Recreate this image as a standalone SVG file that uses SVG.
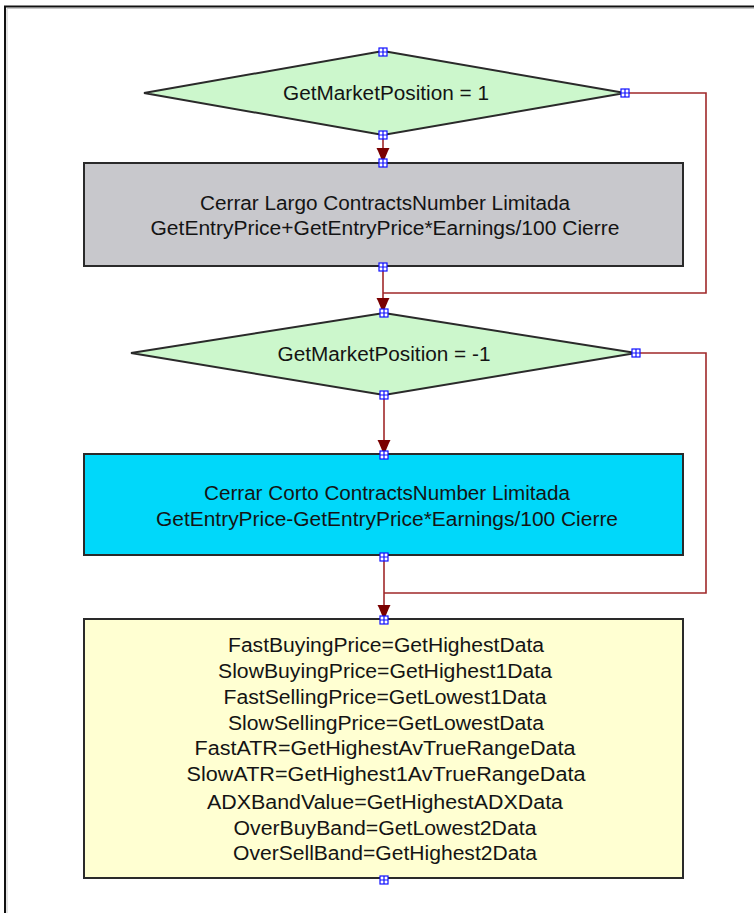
<svg xmlns="http://www.w3.org/2000/svg" width="754" height="913" viewBox="0 0 754 913">
<defs>
<style>
.t{font-family:"Liberation Sans",Arial,sans-serif;font-size:20px;fill:#141414;text-anchor:middle}
.shape{stroke:#2a2a2a;stroke-width:2}
.con{fill:none;stroke:#a0282a;stroke-width:1.6}
.arr{fill:#7a0000}
.h{fill:#ffffff;stroke:#1010ff;stroke-width:1.2}
</style>
<g id="handle">
<rect class="h" x="-4" y="-4" width="8" height="8"/>
<path d="M0,-4V4M-4,0H4" stroke="#1010ff" stroke-width="1.2"/>
</g>
<g id="ah">
<polygon class="arr" points="-6.5,-15 6.5,-15 5,-12 0,0 -5,-12"/>
</g>
</defs>
<rect width="754" height="913" fill="#ffffff"/>
<g id="frame">
<path d="M5,913V6.5H754" fill="none" stroke="#111" stroke-width="2"/>
<path d="M7,913V8.5H754" fill="none" stroke="#c8c8c8" stroke-width="1"/>
</g>
<g id="connectors">
<path class="con" d="M383,135V163"/>
<path class="con" d="M625,93H706V293H383"/>
<path class="con" d="M383,267V313"/>
<path class="con" d="M384,395V455"/>
<path class="con" d="M636,353H706V593H384"/>
<path class="con" d="M384,557V620"/>
<use href="#ah" x="383" y="163"/>
<use href="#ah" x="383" y="313"/>
<use href="#ah" x="384" y="455"/>
<use href="#ah" x="384" y="620"/>
</g>
<g id="d1">
<polygon class="shape" fill="#ccf7cc" points="383,51 625,93 383,135 144,93"/>
<text class="t" x="386" y="100" textLength="206" lengthAdjust="spacingAndGlyphs">GetMarketPosition = 1</text>
<use href="#handle" x="383" y="52"/>
<use href="#handle" x="383" y="135"/>
<use href="#handle" x="625" y="93"/>
</g>
<g id="r1">
<rect class="shape" fill="#c8c8cc" x="84" y="163" width="599" height="103"/>
<text class="t" x="385" y="210" textLength="370" lengthAdjust="spacingAndGlyphs">Cerrar Largo ContractsNumber Limitada</text>
<text class="t" x="385" y="235" textLength="469" lengthAdjust="spacingAndGlyphs">GetEntryPrice+GetEntryPrice*Earnings/100 Cierre</text>
<use href="#handle" x="383" y="163"/>
<use href="#handle" x="383" y="267"/>
</g>
<g id="d2">
<polygon class="shape" fill="#ccf7cc" points="384,313 636,353 384,395 131,353"/>
<text class="t" x="384" y="361" textLength="213" lengthAdjust="spacingAndGlyphs">GetMarketPosition = -1</text>
<use href="#handle" x="384" y="313"/>
<use href="#handle" x="384" y="395"/>
<use href="#handle" x="636" y="353"/>
</g>
<g id="r2">
<rect class="shape" fill="#00d8fa" x="84" y="454" width="599" height="101"/>
<text class="t" x="387" y="500" textLength="366" lengthAdjust="spacingAndGlyphs">Cerrar Corto ContractsNumber Limitada</text>
<text class="t" x="387" y="526" textLength="462" lengthAdjust="spacingAndGlyphs">GetEntryPrice-GetEntryPrice*Earnings/100 Cierre</text>
<use href="#handle" x="384" y="455"/>
<use href="#handle" x="384" y="557"/>
</g>
<g id="r3">
<rect class="shape" fill="#ffffd2" x="84" y="619" width="599" height="259"/>
<text class="t" x="386" y="652" textLength="316" lengthAdjust="spacingAndGlyphs">FastBuyingPrice=GetHighestData</text>
<text class="t" x="385" y="678" textLength="334" lengthAdjust="spacingAndGlyphs">SlowBuyingPrice=GetHighest1Data</text>
<text class="t" x="385" y="704" textLength="323" lengthAdjust="spacingAndGlyphs">FastSellingPrice=GetLowest1Data</text>
<text class="t" x="386" y="730" textLength="316" lengthAdjust="spacingAndGlyphs">SlowSellingPrice=GetLowestData</text>
<text class="t" x="385" y="755" textLength="381" lengthAdjust="spacingAndGlyphs">FastATR=GetHighestAvTrueRangeData</text>
<text class="t" x="386" y="781" textLength="399" lengthAdjust="spacingAndGlyphs">SlowATR=GetHighest1AvTrueRangeData</text>
<text class="t" x="385" y="809" textLength="356" lengthAdjust="spacingAndGlyphs">ADXBandValue=GetHighestADXData</text>
<text class="t" x="385" y="835" textLength="303" lengthAdjust="spacingAndGlyphs">OverBuyBand=GetLowest2Data</text>
<text class="t" x="385" y="860" textLength="304" lengthAdjust="spacingAndGlyphs">OverSellBand=GetHighest2Data</text>
<use href="#handle" x="384" y="620"/>
<use href="#handle" x="384" y="880"/>
</g>
</svg>
